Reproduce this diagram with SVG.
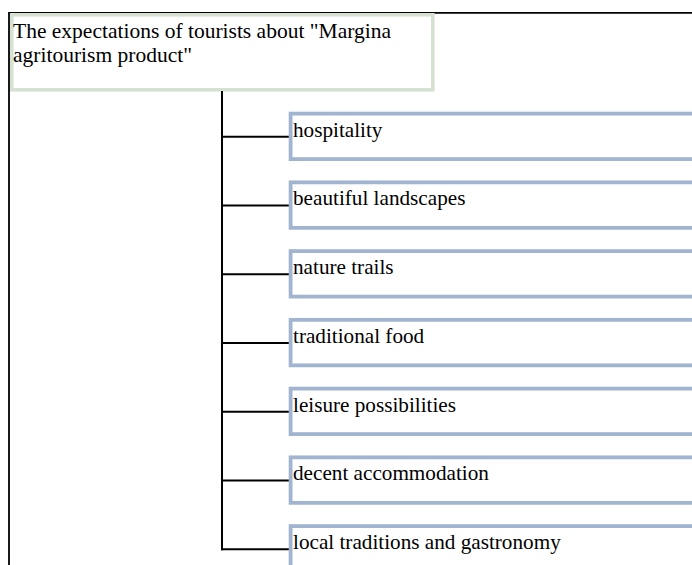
<svg xmlns="http://www.w3.org/2000/svg" width="692" height="565" viewBox="0 0 692 565">
  <style>
    .frame { stroke: #000; stroke-width: 1.8; fill: none; }
    .wire { stroke: #000; stroke-width: 2; fill: none; }
    .root { fill: #fff; stroke: #d5e2d2; stroke-width: 3.6; }
    .leaf { fill: #fff; stroke: #a1b5d0; stroke-width: 3.8; }
    text { font-family: "Liberation Serif", "Times New Roman", serif; font-size: 21.2px; fill: #000; }
    .title { font-size: 21.5px; }
  </style>
  <rect width="692" height="565" fill="#fff"/>

  <!-- outer frame: top and left edges -->
  <g id="frame">
    <line class="frame" x1="9" y1="12.9" x2="692" y2="12.9"/>
    <line class="frame" x1="9" y1="12" x2="9" y2="565"/>
  </g>

  <!-- root node -->
  <g id="root">
    <rect class="root" x="11.8" y="14.8" width="421" height="75"/>
    <text class="title" x="13" y="37.5">The expectations of tourists about "Margina</text>
    <text class="title" x="13" y="62">agritourism product"</text>
  </g>

  <!-- trunk and branches -->
  <g id="connectors">
    <line class="wire" x1="222" y1="91" x2="222" y2="550.2"/>
    <line class="wire" x1="221" y1="136.7" x2="290" y2="136.7"/>
    <line class="wire" x1="221" y1="205.45" x2="290" y2="205.45"/>
    <line class="wire" x1="221" y1="274.2" x2="290" y2="274.2"/>
    <line class="wire" x1="221" y1="342.95" x2="290" y2="342.95"/>
    <line class="wire" x1="221" y1="411.7" x2="290" y2="411.7"/>
    <line class="wire" x1="221" y1="480.45" x2="290" y2="480.45"/>
    <line class="wire" x1="221" y1="549.2" x2="290" y2="549.2"/>
  </g>

  <!-- leaf nodes -->
  <g id="hospitality">
    <rect class="leaf" x="290.6" y="113.6" width="420" height="45.5"/>
    <text x="293" y="136.5">hospitality</text>
  </g>
  <g id="landscapes">
    <rect class="leaf" x="290.6" y="182.35" width="420" height="45.5"/>
    <text x="293" y="205.25">beautiful landscapes</text>
  </g>
  <g id="trails">
    <rect class="leaf" x="290.6" y="251.1" width="420" height="45.5"/>
    <text x="293" y="274">nature trails</text>
  </g>
  <g id="food">
    <rect class="leaf" x="290.6" y="319.85" width="420" height="45.5"/>
    <text x="293" y="342.75">traditional food</text>
  </g>
  <g id="leisure">
    <rect class="leaf" x="290.6" y="388.6" width="420" height="45.5"/>
    <text x="293" y="411.5">leisure possibilities</text>
  </g>
  <g id="accommodation">
    <rect class="leaf" x="290.6" y="457.35" width="420" height="45.5"/>
    <text x="293" y="480.25">decent accommodation</text>
  </g>
  <g id="traditions">
    <rect class="leaf" x="290.6" y="526.1" width="420" height="60"/>
    <text x="293" y="549">local traditions and gastronomy</text>
  </g>
</svg>
